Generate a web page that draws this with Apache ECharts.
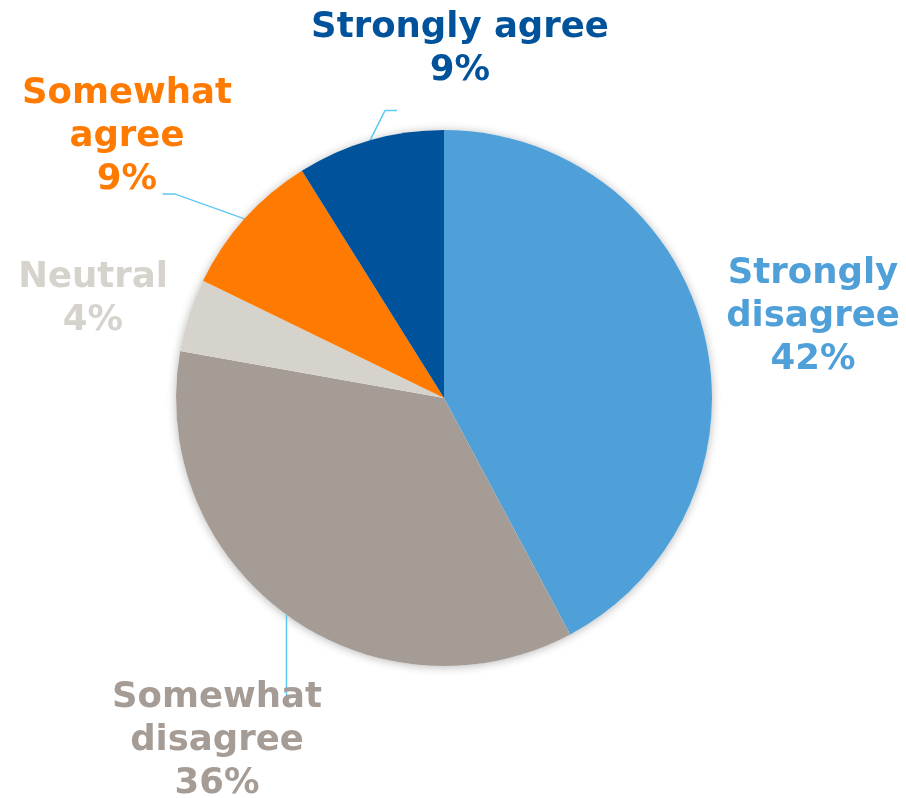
<!DOCTYPE html>
<html>
<head>
<meta charset="utf-8">
<script src="https://cdn.jsdelivr.net/npm/echarts@6/dist/echarts.min.js"></script>
<style>
html, body { margin: 0; padding: 0; background: #ffffff; }
#chart { width: 906px; height: 798px; }
</style>
</head>
<body>
<div id="chart"></div>
<script>
// ---- data ----
const categories = ['Strongly disagree', 'Somewhat disagree', 'Neutral', 'Somewhat agree', 'Strongly agree'];
const labelNames = ['Strongly\ndisagree', 'Somewhat\ndisagree', 'Neutral', 'Somewhat\nagree', 'Strongly agree'];
const values = [42.2, 35.6, 4.4, 8.9, 8.9];
const percentLabels = ['42%', '36%', '4%', '9%', '9%'];
const colors = ['#4F9FD8', '#A59C96', '#D6D3CC', '#FF7A00', '#00529B'];
const showLine = [false, true, false, true, true];

// ---- layout (label placement, not data) ----
const labelPos = [[813, 317], [217, 741], [93, 299], [127, 137], [460, 49]];
const lineShape = [
  null,
  function (p) { return [p, [p[0], p[1] + 83], [p[0], p[1] + 83]]; },
  null,
  function (p) { return [p, [p[0] - 70, p[1] - 25], [p[0] - 82, p[1] - 25]]; },
  function (p) { return [p, [p[0] + 15, p[1] - 30], [p[0] + 27, p[1] - 30]]; }
];

const chart = echarts.init(document.getElementById('chart'), null, { renderer: 'canvas' });

const data = categories.map(function (c, i) {
  return {
    name: c,
    value: values[i],
    itemStyle: { color: colors[i] },
    label: {
      color: colors[i],
      formatter: labelNames[i] + '\n' + percentLabels[i]
    },
    labelLine: { show: showLine[i] }
  };
});

chart.setOption({
  animation: false,
  backgroundColor: '#ffffff',
  series: [{
    // shadow disc behind the pie
    type: 'pie',
    center: [444, 398],
    radius: 268,
    silent: true,
    z: 1,
    label: { show: false },
    labelLine: { show: false },
    emphasis: { disabled: true },
    itemStyle: {
      color: '#ffffff',
      shadowBlur: 10,
      shadowColor: 'rgba(0,0,0,0.28)',
      shadowOffsetX: 0,
      shadowOffsetY: 1
    },
    data: [{ value: 1, name: '' }]
  }, {
    type: 'pie',
    center: [444, 398],
    radius: 268,
    startAngle: 90,
    clockwise: true,
    z: 2,
    avoidLabelOverlap: false,
    data: data,
    emphasis: { disabled: true },
    label: {
      show: true,
      position: 'outside',
      fontFamily: 'DejaVu Sans',
      fontWeight: 'bold',
      fontSize: 35.5,
      lineHeight: 43,
      align: 'center'
    },
    labelLine: {
      show: true,
      smooth: false,
      lineStyle: { color: '#5CC9F5', width: 1.5 }
    },
    labelLayout: function (params) {
      const i = params.dataIndex;
      const out = {
        x: labelPos[i][0],
        y: labelPos[i][1],
        align: 'center',
        verticalAlign: 'middle'
      };
      if (lineShape[i] && params.labelLinePoints && params.labelLinePoints.length) {
        const p0 = params.labelLinePoints[0];
        out.labelLinePoints = lineShape[i]([p0[0], p0[1]]);
      }
      return out;
    }
  }]
});
</script>
</body>
</html>
